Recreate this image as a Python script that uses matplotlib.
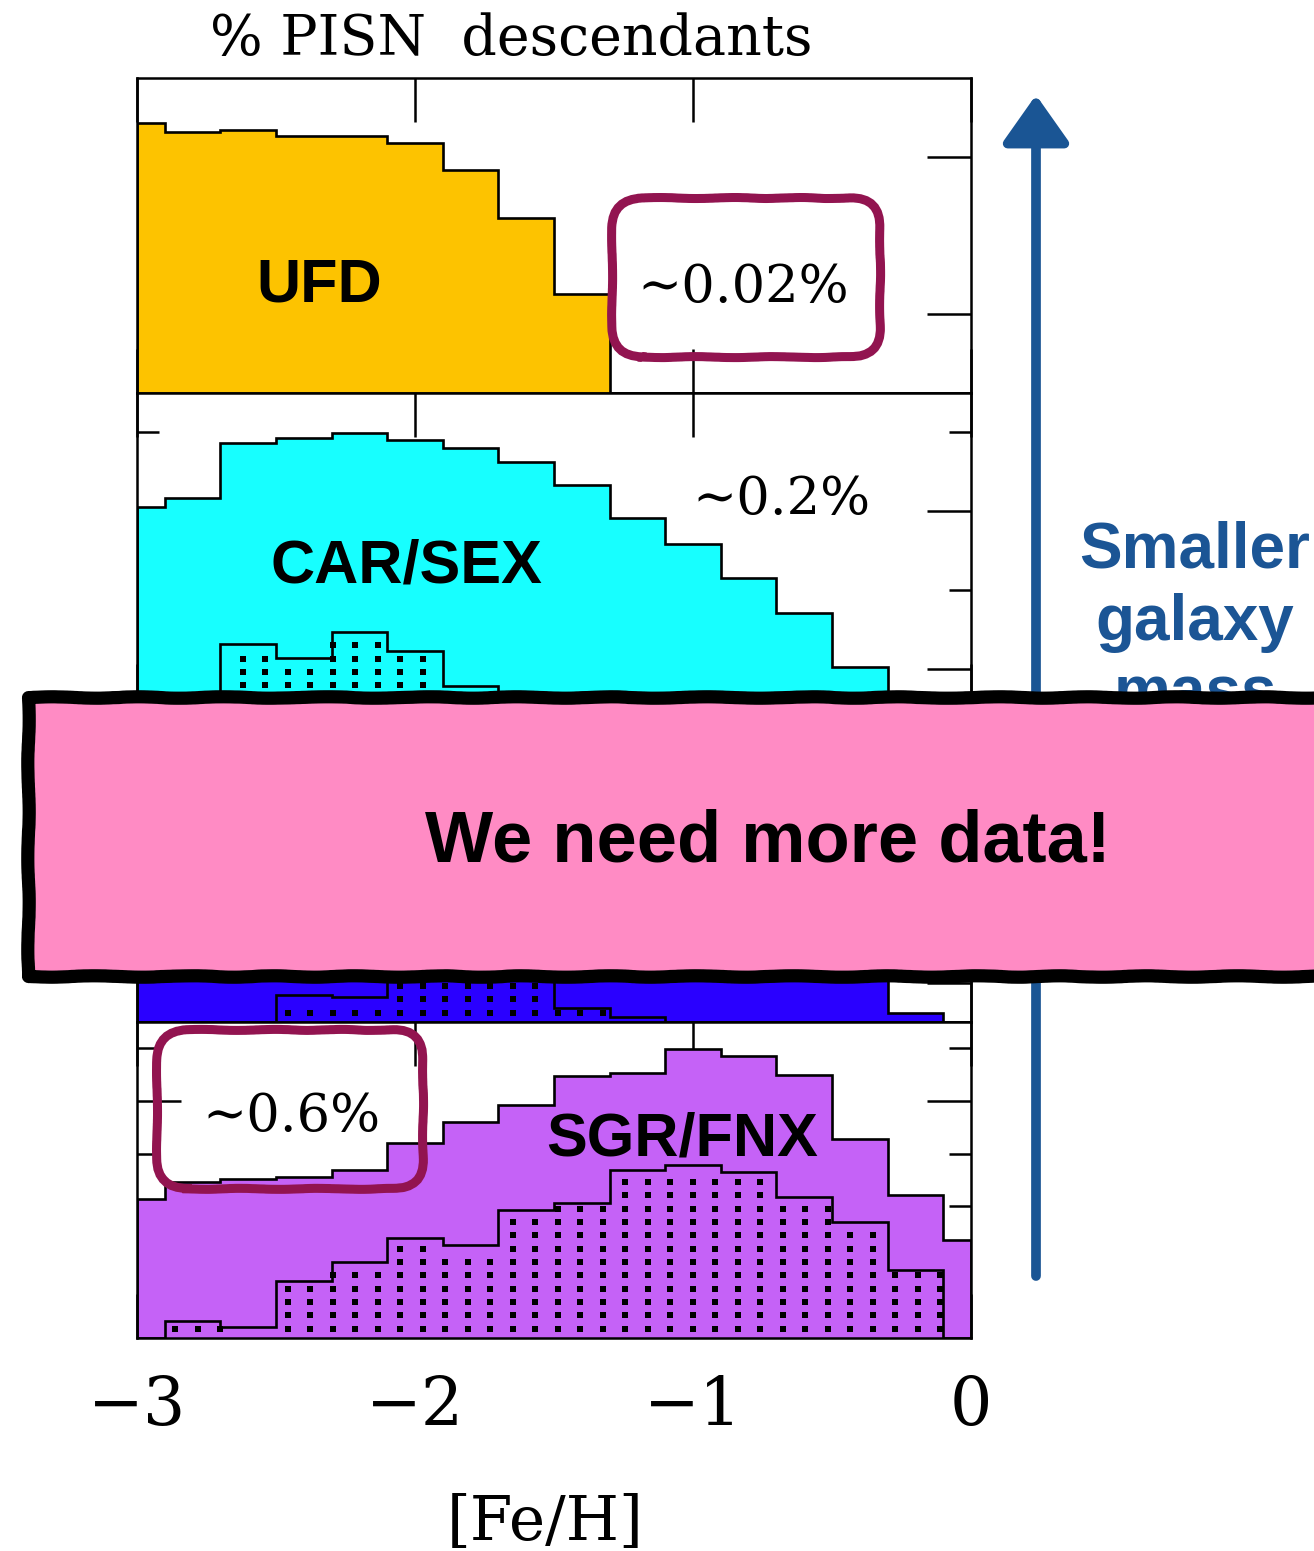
import numpy as np
import matplotlib.pyplot as plt
from matplotlib.patches import FancyBboxPatch, Rectangle, FancyArrowPatch
from matplotlib.transforms import IdentityTransform

plt.rcParams["font.family"] = ["DejaVu Serif"]

# [Fe/H] bins (0.2 dex, centred on -3.0 ... 0.0, cut at the axis limits)
feh_edges = [-3.0, -2.9, -2.7, -2.5, -2.3, -2.1, -1.9, -1.7, -1.5, -1.3,
             -1.1, -0.9, -0.7, -0.5, -0.3, -0.1, 0.0]

# histogram heights as a fraction of the panel height
ufd_all = [0.857, 0.829, 0.835, 0.816, 0.816, 0.794, 0.708, 0.556, 0.314,
           0, 0, 0, 0, 0, 0, 0]
ufd_pisn = [0] * 16
carsex_all = [0.639, 0.667, 0.841, 0.857, 0.873, 0.851, 0.825, 0.781, 0.708,
              0.603, 0.521, 0.413, 0.302, 0.130, 0, 0]
carsex_pisn = [0, 0, 0.203, 0.159, 0.241, 0.181, 0.070, 0.040, 0.020,
               0, 0, 0, 0, 0, 0, 0]
# third panel is almost fully hidden behind the banner
mid_all = [0.55, 0.56, 0.63, 0.71, 0.78, 0.84, 0.88, 0.86, 0.80, 0.70,
           0.58, 0.45, 0.32, 0.18, 0.029, 0]
mid_pisn = [0, 0, 0, 0.086, 0.080, 0.20, 0.24, 0.21, 0.045, 0.016,
            0, 0, 0, 0, 0, 0]
sgrfnx_all = [0.440, 0.494, 0.503, 0.509, 0.532, 0.617, 0.684, 0.737, 0.829,
              0.839, 0.915, 0.892, 0.832, 0.630, 0.453, 0.310]
sgrfnx_pisn = [0, 0.055, 0.036, 0.181, 0.241, 0.316, 0.294, 0.405, 0.426,
               0.532, 0.547, 0.526, 0.445, 0.368, 0.215, 0]

panel_all = [ufd_all, carsex_all, mid_all, sgrfnx_all]
panel_pisn = [ufd_pisn, carsex_pisn, mid_pisn, sgrfnx_pisn]
panel_names = ["UFD", "CAR/SEX", "", "SGR/FNX"]
panel_pct = ["\u223c0.02%", "\u223c0.2%", "", "\u223c0.6%"]
panel_colors = ["#fdc300", "#17ffff", "#2a00ff", "#c562f7"]
xtick_values = [-3, -2, -1, 0]
xtick_labels = ["\u22123", "\u22122", "\u22121", "0"]

# y tick positions (fraction of panel height)
ymajor = [[0.25, 0.75], [0.125, 0.625], [0.125, 0.625], [0.25, 0.75]]
yminor = [[], [0.375, 0.875], [0.375, 0.875],
          [1 / 12, 5 / 12, 7 / 12, 11 / 12]]

# label placement (data x, panel fraction y)
name_pos = [(-2.345, 0.289), (-2.03, 0.397), None, (-1.04, 0.579)]
pct_pos = [(-0.82, 0.289), (-0.683, 0.616), None, (-2.446, 0.655)]
box_pos = [(-1.291, 0.114, -0.327, 0.619), None, None,
           (-2.928, 0.472, -1.971, 0.975)]

W, H = 1314, 1551
fig = plt.figure(figsize=(W / 100, H / 100), dpi=100)
fig.patch.set_facecolor("white")

panel_px = [78, 393, 708, 1022, 1338]
left_px, right_px = 137, 971
maroon = "#921450"
blue_txt = "#1b5595"

edges = np.array(feh_edges)
dx = 22.5 / 278.0
dy = 13.3 / 315.0

axes = []
for i in range(4):
    top, bot = panel_px[i], panel_px[i + 1]
    ax = fig.add_axes([left_px / W, 1 - bot / H, (right_px - left_px) / W,
                       (bot - top) / H])
    axes.append(ax)
    ax.set_xlim(-3, 0)
    ax.set_ylim(0, 1)
    ax.set_axisbelow(True)

    allv = np.array(panel_all[i])
    pisn = np.array(panel_pisn[i])
    ax.stairs(allv, edges, fill=True, color=panel_colors[i], lw=0, zorder=1)
    ax.stairs(allv, edges, baseline=0, color="black", lw=1.9, zorder=2)

    if pisn.max() > 0:
        ax.stairs(pisn, edges, baseline=0, color="black", lw=1.9, zorder=2)
        # dotted fill for the PISN descendants
        xs = np.arange(-3 + dx * 0.7, 0, dx)
        ys = np.arange(dy * 0.7, 1, dy)
        X, Y = np.meshgrid(xs, ys)
        idx = np.clip(np.searchsorted(edges, X, side="right") - 1, 0, 15)
        keep = Y < pisn[idx] - dy * 0.35
        ax.scatter(X[keep], Y[keep], marker="s", s=17, c="black", lw=0,
                   zorder=2)

    for s in ax.spines.values():
        s.set_linewidth(1.8)
        s.set_zorder(3)
    ax.set_xticks(xtick_values)
    ax.set_yticks(ymajor[i])
    ax.set_yticks(yminor[i], minor=True)
    ax.tick_params(which="both", direction="in", top=True, right=True,
                   width=1.8, labelleft=False, labelbottom=(i == 3))
    ax.tick_params(which="major", length=32)
    ax.tick_params(which="minor", length=16)

    if name_pos[i] is not None:
        ax.text(*name_pos[i], panel_names[i], ha="center", va="baseline",
                fontsize=44, fontweight="bold", family="Liberation Sans",
                zorder=4)
        ax.text(*pct_pos[i], panel_pct[i], ha="center", va="baseline",
                fontsize=38, family="DejaVu Serif", zorder=4)

    if box_pos[i] is not None:
        x0, y0, x1, y1 = box_pos[i]
        p0 = ax.transData.transform((x0, y0))
        p1 = ax.transData.transform((x1, y1))
        box = FancyBboxPatch(p0, p1[0] - p0[0], p1[1] - p0[1],
                             boxstyle="round,pad=0,rounding_size=30",
                             transform=IdentityTransform(), fc="none",
                             ec=maroon, lw=6.5, zorder=3)
        box.set_sketch_params(0.5, 90, 3)
        fig.add_artist(box)

axes[3].set_xticklabels(xtick_labels)
axes[3].tick_params(axis="x", labelsize=48, pad=26)

fig.text(511 / W, 1 - 55 / H, "% PISN  descendants", ha="center",
         va="baseline", fontsize=40)
fig.text(545 / W, 1 - 1540 / H, "[Fe/H]", ha="center", va="baseline",
         fontsize=44)

# mass arrow on the right
arrow = FancyArrowPatch((1036 / W, 1 - 1276 / H), (1036 / W, 1 - 95 / H),
                        transform=fig.transFigure,
                        arrowstyle="-|>,head_length=0.85,head_width=0.6",
                        mutation_scale=34, lw=7, color="#1a5594",
                        capstyle="round", shrinkA=0, shrinkB=0, zorder=2)
fig.add_artist(arrow)
for label, base in zip(["Smaller", "galaxy", "mass"], [568, 640, 712]):
    fig.text(1195 / W, 1 - base / H, label, ha="center", va="baseline",
             fontsize=46, fontweight="bold", family="Liberation Sans",
             color=blue_txt, zorder=2)

# banner across the middle
banner = Rectangle((28 / W, 1 - 976 / H), (1400 - 28) / W, (976 - 697) / H,
                   transform=fig.transFigure, fc="#ff8bc4", ec="black",
                   lw=9.5, joinstyle="round", zorder=10)
banner.set_sketch_params(0.7, 110, 3)
fig.add_artist(banner)
fig.text(768 / W, 1 - 862 / H, "We need more data!", ha="center",
         va="baseline", fontsize=52, fontweight="bold",
         family="Liberation Sans", zorder=11)

fig.savefig("out.png", dpi=100)
